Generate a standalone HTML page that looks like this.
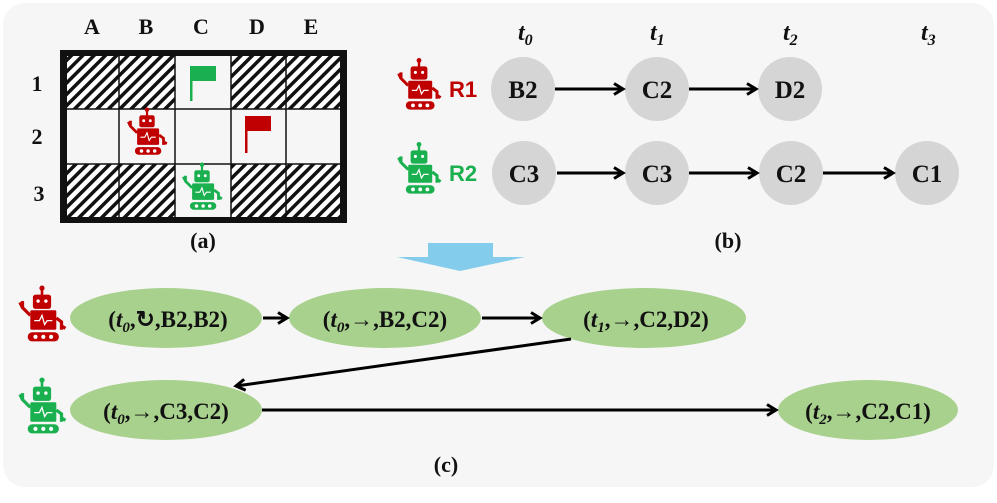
<!DOCTYPE html>
<html><head><style>
html,body{margin:0;padding:0;background:#fff;}
svg{display:block;}
text{font-family:"Liberation Serif",serif;font-weight:bold;fill:#111;}
</style></head><body>
<svg width="997" height="503" viewBox="0 0 997 503" xmlns="http://www.w3.org/2000/svg">
<defs>
<pattern id="hatch" width="8" height="8" patternUnits="userSpaceOnUse" patternTransform="rotate(45)">
<rect width="8" height="8" fill="#fff"/><rect width="3.5" height="8" fill="#111"/>
</pattern>
<marker id="ah" markerWidth="14" markerHeight="14" refX="11" refY="7" orient="auto" markerUnits="userSpaceOnUse">
<path d="M2,1.5 L11,7 L2,12.5" fill="none" stroke="#000" stroke-width="3"/>
</marker>
<g id="robot">
<rect x="-1" y="-22" width="2" height="5"/><circle cx="0" cy="-23" r="2"/>
<rect x="-7" y="-18" width="14" height="11" rx="2"/>
<rect x="-9" y="-6" width="20" height="15" rx="1"/>
<path d="M-9,-2 L-15,-8 L-15,-13 M-15,-8 L-17,-12" stroke="currentColor" stroke-width="2.5" fill="none"/>
<path d="M11,0 L15,3 L15,9 M15,6 L18,8" stroke="currentColor" stroke-width="2.5" fill="none"/>
<rect x="-11" y="11" width="24" height="7" rx="3.5"/>
<circle cx="-5" cy="14.5" r="1.6" fill="#fff"/><circle cx="1" cy="14.5" r="1.6" fill="#fff"/><circle cx="7" cy="14.5" r="1.6" fill="#fff"/>
<circle cx="-3" cy="-13" r="1.3" fill="#fff"/><circle cx="3" cy="-13" r="1.3" fill="#fff"/>
<path d="M-6,2 L-2,2 L0,-2 L2,5 L4,2 L8,2" stroke="#fff" stroke-width="1" fill="none"/>
</g>
</defs>
<rect x="3" y="3" width="991" height="484" rx="22" fill="#f6f6f6"/>

<!-- grid (a) -->
<g font-size="22">
<text x="92" y="34" text-anchor="middle">A</text>
<text x="146" y="34" text-anchor="middle">B</text>
<text x="201" y="34" text-anchor="middle">C</text>
<text x="257" y="34" text-anchor="middle">D</text>
<text x="311" y="34" text-anchor="middle">E</text>
<text x="37" y="91" text-anchor="middle">1</text>
<text x="37" y="144" text-anchor="middle">2</text>
<text x="39" y="201" text-anchor="middle">3</text>
</g>
<rect x="60" y="50" width="287" height="173" fill="#111"/>
<rect x="67" y="56" width="273" height="161" fill="#f6f6f6"/>
<g fill="url(#hatch)">
<rect x="67" y="56" width="52" height="53"/><rect x="119" y="56" width="56" height="53"/>
<rect x="231" y="56" width="55" height="53"/><rect x="286" y="56" width="54" height="53"/>
<rect x="67" y="164" width="52" height="53"/><rect x="119" y="164" width="56" height="53"/>
<rect x="231" y="164" width="55" height="53"/><rect x="286" y="164" width="54" height="53"/>
</g>
<g stroke="#111" stroke-width="1.5">
<line x1="119" y1="56" x2="119" y2="217"/><line x1="175" y1="56" x2="175" y2="217"/>
<line x1="231" y1="56" x2="231" y2="217"/><line x1="286" y1="56" x2="286" y2="217"/>
<line x1="67" y1="109" x2="340" y2="109"/><line x1="67" y1="164" x2="340" y2="164"/>
</g>
<rect x="190" y="66" width="2.5" height="35" fill="#1ab04f"/><path d="M192,66 L216,66 L216,81 L192,81 Z" fill="#1ab04f"/>
<rect x="245" y="116" width="2.5" height="37" fill="#c00000"/><path d="M247,116 L271,116 L271,131 L247,131 Z" fill="#c00000"/>
<use href="#robot" transform="translate(147,135) scale(1.1)" fill="#c00000" color="#c00000"/>
<use href="#robot" transform="translate(202,190) scale(1.1)" fill="#1ab04f" color="#1ab04f"/>
<text x="203" y="248" font-size="22" text-anchor="middle">(a)</text>

<!-- (b) -->
<g font-size="24" font-style="italic">
<text x="518" y="40">t<tspan font-size="16" dy="5">0</tspan></text>
<text x="650" y="40">t<tspan font-size="16" dy="5">1</tspan></text>
<text x="783" y="40">t<tspan font-size="16" dy="5">2</tspan></text>
<text x="921" y="40">t<tspan font-size="16" dy="5">3</tspan></text>
</g>
<use href="#robot" transform="translate(419,88) scale(1.2)" fill="#c00000" color="#c00000"/>
<use href="#robot" transform="translate(419,172) scale(1.2)" fill="#1ab04f" color="#1ab04f"/>
<text x="449" y="97" font-size="22" style="font-family:'Liberation Sans',sans-serif;fill:#c00000">R1</text>
<text x="449" y="181" font-size="22" style="font-family:'Liberation Sans',sans-serif;fill:#1ab04f">R2</text>
<g fill="#d6d5d5">
<circle cx="523" cy="89" r="32"/><circle cx="657" cy="89" r="32"/><circle cx="790" cy="89" r="32"/>
<circle cx="524" cy="173" r="32"/><circle cx="657" cy="173" r="32"/><circle cx="791" cy="173" r="32"/><circle cx="927" cy="173" r="32"/>
</g>
<g font-size="25" text-anchor="middle">
<text x="523" y="98">B2</text><text x="657" y="98">C2</text><text x="790" y="98">D2</text>
<text x="524" y="182">C3</text><text x="657" y="182">C3</text><text x="791" y="182">C2</text><text x="927" y="182">C1</text>
</g>
<g stroke="#000" stroke-width="3" marker-end="url(#ah)">
<line x1="555" y1="89" x2="623" y2="89"/><line x1="689" y1="89" x2="756" y2="89"/>
<line x1="557" y1="173" x2="623" y2="173"/><line x1="689" y1="173" x2="757" y2="173"/><line x1="823" y1="173" x2="893" y2="173"/>
</g>
<text x="728" y="248" font-size="22" text-anchor="middle">(b)</text>

<!-- blue arrow -->
<path d="M428,243 L493,243 L493,257 L525,257 L460,271 L397,257 L428,257 Z" fill="#84ccec"/>

<!-- (c) -->
<use href="#robot" transform="translate(42,318) scale(1.3)" fill="#c00000" color="#c00000"/>
<use href="#robot" transform="translate(42,410) scale(1.3)" fill="#1ab04f" color="#1ab04f"/>
<g fill="#a9d18e">
<ellipse cx="166" cy="318" rx="96" ry="30"/>
<ellipse cx="385" cy="318" rx="96" ry="30"/>
<ellipse cx="644" cy="318" rx="102" ry="30"/>
<ellipse cx="166" cy="410" rx="96" ry="30"/>
<ellipse cx="868" cy="410" rx="90" ry="30"/>
</g>
<g font-size="23" text-anchor="middle">
<text x="168" y="327">(<tspan font-style="italic">t</tspan><tspan font-style="italic" font-size="15" dy="5">0</tspan><tspan dy="-5">,↻,B2,B2)</tspan></text>
<text x="385" y="327">(<tspan font-style="italic">t</tspan><tspan font-style="italic" font-size="15" dy="5">0</tspan><tspan dy="-5">,→,B2,C2)</tspan></text>
<text x="646" y="327">(<tspan font-style="italic">t</tspan><tspan font-style="italic" font-size="15" dy="5">1</tspan><tspan dy="-5">,→,C2,D2)</tspan></text>
<text x="166" y="419">(<tspan font-style="italic">t</tspan><tspan font-style="italic" font-size="15" dy="5">0</tspan><tspan dy="-5">,→,C3,C2)</tspan></text>
<text x="868" y="419">(<tspan font-style="italic">t</tspan><tspan font-style="italic" font-size="15" dy="5">2</tspan><tspan dy="-5">,→,C2,C1)</tspan></text>
</g>
<g stroke="#000" stroke-width="3" marker-end="url(#ah)">
<line x1="263" y1="318" x2="287" y2="318"/>
<line x1="482" y1="318" x2="540" y2="318"/>
<line x1="571" y1="339" x2="236" y2="386"/>
<line x1="262" y1="410" x2="776" y2="410"/>
</g>
<text x="446" y="472" font-size="22" text-anchor="middle">(c)</text>
</svg>
</body></html>
